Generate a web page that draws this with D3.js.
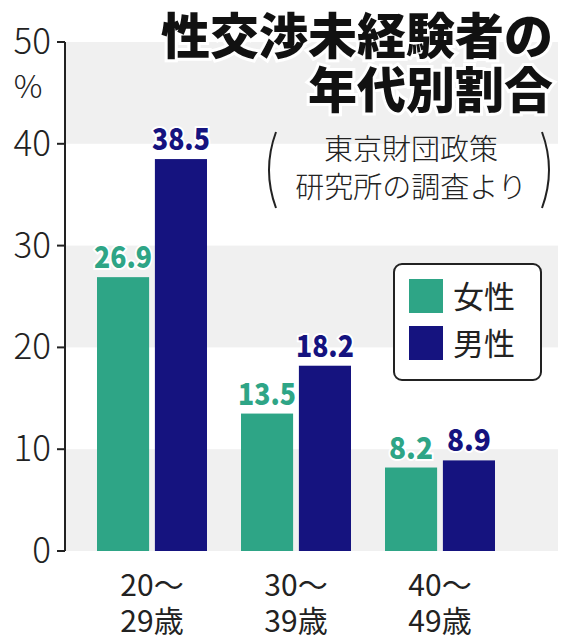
<!DOCTYPE html>
<html lang="ja">
<head>
<meta charset="UTF-8">
<script src="https://d3js.org/d3.v7.min.js"></script>
<style>
  body{margin:0;background:#fff;}
  text{font-family:"Noto Sans CJK JP","Noto Sans",sans-serif;}
</style>
</head>
<body>
<svg id="chart" width="572" height="640"></svg>
<script>
const groups = ["20〜\n29歳", "30〜\n39歳", "40〜\n49歳"];
const women = [26.9, 13.5, 8.2];
const men = [38.5, 18.2, 8.9];
const yTicks = [0, 10, 20, 30, 40, 50];
const series = [
  {name: "女性", values: women, color: "#2ea586"},
  {name: "男性", values: men, color: "#15137f"}
];

const svg = d3.select("#chart");
const y = d3.scaleLinear().domain([0, 50]).range([551, 42]);
const x = d3.scaleBand().domain(groups).range([80, 512]).paddingInner(0);
const sub = d3.scaleBand().domain(series.map(s => s.name)).range([17, 127]).paddingInner(0.1);

// grey bands
[[0,10],[20,30],[40,50]].forEach(b => {
  svg.append("rect").attr("x", 66).attr("width", 492)
    .attr("y", y(b[1])).attr("height", y(b[0]) - y(b[1])).attr("fill", "#f0f0f0");
});

// axis
svg.append("line").attr("x1", 65).attr("x2", 65).attr("y1", y(50)).attr("y2", y(0))
  .attr("stroke", "#222").attr("stroke-width", 2);
yTicks.forEach(t => {
  svg.append("line").attr("x1", 57).attr("x2", 65).attr("y1", y(t)).attr("y2", y(t))
    .attr("stroke", "#222").attr("stroke-width", 2);
  svg.append("text").attr("x", 51).attr("y", y(t) + 12).attr("text-anchor", "end")
    .attr("font-size", 35).attr("fill", "#222").attr("font-weight", 300).text(t);
});
svg.append("text").attr("x", 28).attr("y", 98).attr("text-anchor", "middle")
  .attr("font-size", 32).attr("fill", "#222").attr("font-weight", 300).text("%");

// bars
series.forEach(s => {
  groups.forEach((g, i) => {
    const bx = x(g) + sub(s.name), v = s.values[i];
    svg.append("rect").attr("x", bx).attr("width", sub.bandwidth())
      .attr("y", y(v)).attr("height", y(0) - y(v)).attr("fill", s.color);
    svg.append("text").attr("x", bx + sub.bandwidth() / 2).attr("y", y(v) - 9)
      .attr("text-anchor", "middle").attr("font-size", 30).attr("font-weight", 900)
      .attr("fill", s.color).attr("stroke", "#fff").attr("stroke-width", 4)
      .attr("paint-order", "stroke").attr("textLength", v < 10 ? 44 : 58).attr("lengthAdjust", "spacingAndGlyphs")
      .text(v.toFixed(1));
  });
});

// x labels
groups.forEach(g => {
  g.split("\n").forEach((l, j) => {
    svg.append("text").attr("x", x(g) + 72).attr("y", 596 + j * 36)
      .attr("text-anchor", "middle").attr("font-size", 30).attr("fill", "#222").text(l);
  });
});

// title
["性交渉未経験者の", "年代別割合"].forEach((l, j) => {
  svg.append("text").attr("x", 553).attr("y", 54 + j * 54).attr("text-anchor", "end")
    .attr("font-size", 49).attr("font-weight", 900).attr("fill", "#111")
    .attr("stroke", "#fff").attr("stroke-width", 6).attr("paint-order", "stroke").text(l);
});
// source
["東京財団政策", "研究所の調査より"].forEach((l, j) => {
  svg.append("text").attr("x", 411).attr("y", 160 + j * 38).attr("text-anchor", "middle")
    .attr("font-size", 29).attr("fill", "#222").attr("font-weight", 300).text(l);
});
svg.append("path").attr("d", "M276,132 Q262,170 276,208").attr("fill", "none").attr("stroke", "#222").attr("stroke-width", 2);
svg.append("path").attr("d", "M542,132 Q556,170 542,208").attr("fill", "none").attr("stroke", "#222").attr("stroke-width", 2);

// legend
svg.append("rect").attr("x", 394).attr("y", 264).attr("width", 147).attr("height", 116)
  .attr("rx", 8).attr("fill", "#fff").attr("stroke", "#222").attr("stroke-width", 2);
series.forEach((s, i) => {
  svg.append("rect").attr("x", 409).attr("y", 279 + i * 47).attr("width", 34).attr("height", 34).attr("fill", s.color);
  svg.append("text").attr("x", 453).attr("y", 308 + i * 47).attr("font-size", 31)
    .attr("fill", "#222").text(s.name);
});
</script>
</body>
</html>
